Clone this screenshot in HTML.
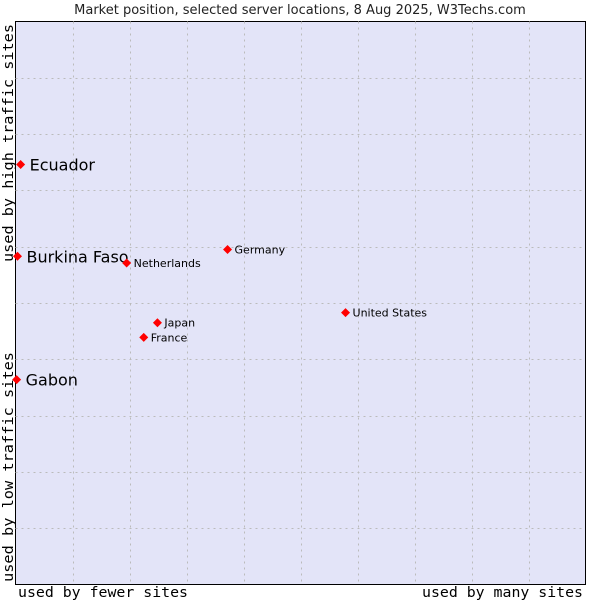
<!DOCTYPE html>
<html><head><meta charset="utf-8"><style>
body{margin:0;background:#fff;width:600px;height:600px;overflow:hidden}
svg text{font-family:"DejaVu Sans",sans-serif}
.mono{font-family:"DejaVu Sans Mono","Liberation Mono",monospace}
</style></head><body>
<svg id="chart" width="600" height="600">
<text x="300" y="14" text-anchor="middle" font-size="13" fill="#222">Market position, selected server locations, 8 Aug 2025, W3Techs.com</text>
<rect x="15.5" y="21.5" width="570" height="563" fill="#e3e4f8" stroke="#000"/>
<g id="grid"></g>
<g id="points"></g>
<text class="mono" x="18" y="597" font-size="14" textLength="170" lengthAdjust="spacingAndGlyphs" fill="#000">used by fewer sites</text>
<text class="mono" x="422" y="597" font-size="14" textLength="161" lengthAdjust="spacingAndGlyphs" fill="#000">used by many sites</text>
<text class="mono" transform="translate(13,582) rotate(-90)" font-size="14" textLength="230" lengthAdjust="spacingAndGlyphs" fill="#000">used by low traffic sites</text>
<text class="mono" transform="translate(13,262) rotate(-90)" font-size="14" textLength="238" lengthAdjust="spacingAndGlyphs" fill="#000">used by high traffic sites</text>
</svg>
<script>
const names = ["Ecuador","Burkina Faso","Gabon","Netherlands","Germany","United States","Japan","France"];
const xValues = [0.9,0.35,0.2,19.5,37.2,57.9,24.9,22.5];
const yValues = [74.6,58.3,36.4,57.1,59.5,48.3,46.5,43.9];
const bigLabel = [true,true,true,false,false,false,false,false];
const L=15.5,R=585.5,T=21.5,B=584.5;
const sx=v=>L+v/100*(R-L), sy=v=>B-v/100*(B-T);
const NS="http://www.w3.org/2000/svg";
const grid=document.getElementById('grid');
for(let i=1;i<10;i++){
  const v=document.createElementNS(NS,'line');
  
  
  const x=Math.round(sx(i*10))+0.5;
  v.setAttribute('x1',x);v.setAttribute('x2',x);v.setAttribute('y1',T);v.setAttribute('y2',B);
  v.setAttribute('stroke','#bbbbbb');v.setAttribute('stroke-dasharray','2,4');
  grid.appendChild(v);
  const h=document.createElementNS(NS,'line');
  
  
  const y=Math.round(sy(i*10))+0.5;
  h.setAttribute('y1',y);h.setAttribute('y2',y);h.setAttribute('x1',L);h.setAttribute('x2',R);
  h.setAttribute('stroke','#bbbbbb');h.setAttribute('stroke-dasharray','2,4');
  grid.appendChild(h);
}
const pts=document.getElementById('points');
names.forEach((n,i)=>{
  const x=sx(xValues[i]),y=sy(yValues[i]);
  const d=document.createElementNS(NS,'path');
  
  
  d.setAttribute('d',`M${x-4.5},${y}L${x},${y-4.5}L${x+4.5},${y}L${x},${y+4.5}Z`);
  d.setAttribute('fill','#f00');
  pts.appendChild(d);
  const t=document.createElementNS(NS,'text');
  
  
  t.setAttribute('x',x+(bigLabel[i]?9:7));
  t.setAttribute('y',y+(bigLabel[i]?6:4));
  t.setAttribute('font-size',bigLabel[i]?16:11);
  t.setAttribute('fill','#000');
  t.textContent=n;
  pts.appendChild(t);
});
</script>
</body></html>
